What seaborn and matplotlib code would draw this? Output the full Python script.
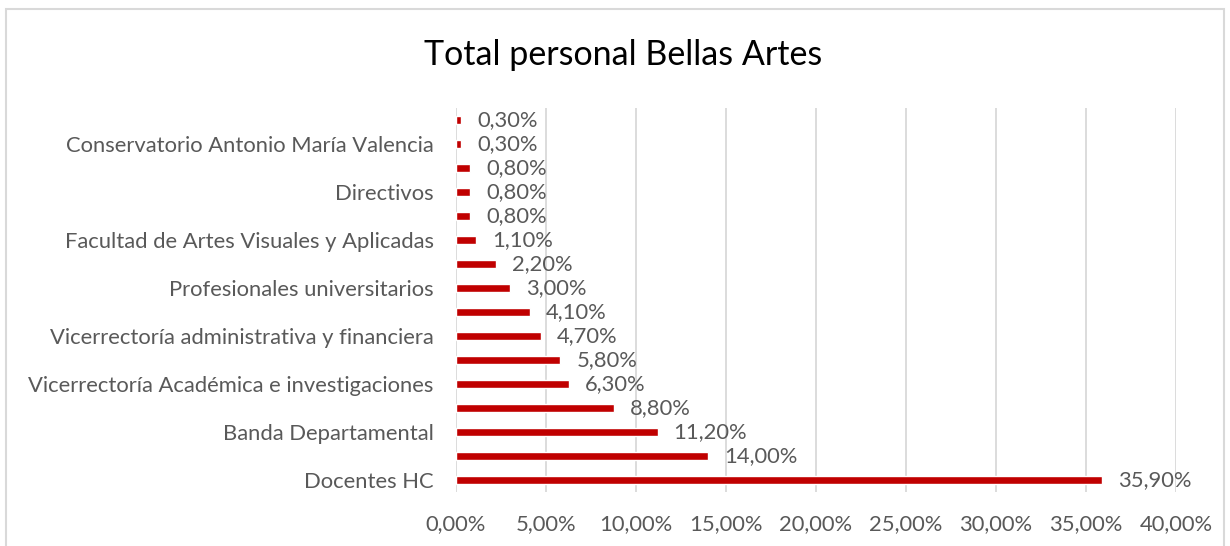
import matplotlib
matplotlib.use("Agg")
import matplotlib.pyplot as plt
import seaborn as sns
import pandas as pd
from matplotlib.patches import Rectangle

# Data (top to bottom as drawn)
values = [0.3, 0.3, 0.8, 0.8, 0.8, 1.1, 2.2, 3.0, 4.1, 4.7, 5.8, 6.3, 8.8, 11.2, 14.0, 35.9]
tick_labels = ["", "Conservatorio Antonio María Valencia", "", "Directivos", "",
               "Facultad de Artes Visuales y Aplicadas", "", "Profesionales universitarios", "",
               "Vicerrectoría administrativa y financiera", "", "Vicerrectoría Académica e investigaciones",
               "", "Banda Departamental", "", "Docentes HC"]
x_ticks = [0, 5, 10, 15, 20, 25, 30, 35, 40]
title = "Total personal Bellas Artes"

sns.set_theme(style="white")
plt.rcParams['font.family'] = ['Lato', 'DejaVu Sans']

TEXT = "#595959"
df = pd.DataFrame({"pos": list(range(len(values))), "value": values})

fig = plt.figure(figsize=(12.3, 5.46), dpi=100)
ax = fig.add_axes([456/1230, 54/546, 720/1230, 384/546])

sns.barplot(data=df, x="value", y="pos", orient="h", color="#C00000",
            width=0.35, saturation=1, ax=ax, zorder=3)

ax.set_xlim(0, 40)
ax.set_ylim(len(values) - 0.5, -0.5)
ax.set_xticks(x_ticks)
ax.set_xticklabels([f"{v:.2f}%".replace(".", ",") for v in x_ticks], color=TEXT, fontsize=15.8)
ax.set_yticks(range(len(values)))
ax.set_yticklabels(tick_labels, color=TEXT, fontsize=15.8)
ax.tick_params(axis="both", length=0)
ax.tick_params(axis="x", pad=16)
ax.tick_params(axis="y", pad=16)
ax.grid(axis="x", color="#D9D9D9", linewidth=1.3, zorder=0)
ax.set_axisbelow(True)
for s in ax.spines.values():
    s.set_visible(False)
ax.set_xlabel("")
ax.set_ylabel("")

for i, v in enumerate(values):
    ax.annotate(f"{v:.2f}%".replace(".", ","), xy=(v, i), xytext=(11.5, 0),
                textcoords="offset points", ha="left", va="center",
                color=TEXT, fontsize=15.8)

fig.text(623/1230, 1 - 55/546, title, ha="center", va="center", fontsize=24.5, color="#000000")

fig.patches.append(Rectangle((6/1230, -0.02), 1218/1230, 1 - 9/546 + 0.02,
                             transform=fig.transFigure, fill=False,
                             edgecolor="#D9D9D9", linewidth=1.5))

fig.savefig("out.png", dpi=100)
